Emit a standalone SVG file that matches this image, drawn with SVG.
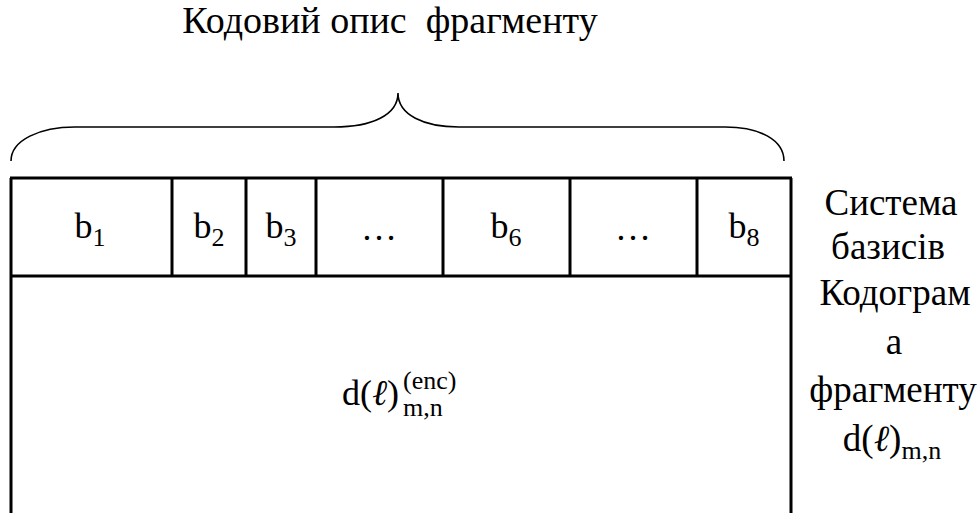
<svg xmlns="http://www.w3.org/2000/svg" width="979" height="513" viewBox="0 0 979 513">
<style>
text{font-family:'Liberation Serif','Tinos','DejaVu Serif','Noto Serif',serif;fill:#000;font-size:36px}
.t{font-size:38px}
.s{font-size:37px}
.sub{font-size:26px}
.c{text-anchor:middle}
.it{font-style:italic}
.ln{stroke:#000;stroke-width:3;fill:none}
.br{stroke:#000;stroke-width:1.6;fill:none}
</style>
<rect width="979" height="513" fill="#fff"/>
<g id="title"><text class="c t" x="390" y="33" xml:space="preserve">Кодовий опис  фрагменту</text></g>
<g id="connectors">
<path class="br" d="M11,161 C11,140 40,127 75,127 L334,127 C372,127 398,115 398,93 C398,115 424,127 459,127 L725,127 C760,127 784,140 784,161"/>
</g>
<g id="table">
<path class="ln" d="M10,178 H792 M10,276 H792 M11,178 V513 M791,178 V513 M172,178 V276 M246,178 V276 M316,178 V276 M443,178 V276 M570,178 V276 M697,178 V276"/>
</g>
<g id="b1"><text class="c" x="90" y="238">b<tspan class="sub" dy="8">1</tspan></text></g>
<g id="b2"><text class="c" x="209" y="238">b<tspan class="sub" dy="8">2</tspan></text></g>
<g id="b3"><text class="c" x="281" y="238">b<tspan class="sub" dy="8">3</tspan></text></g>
<g id="dots1"><text class="c" x="379" y="240">…</text></g>
<g id="b6"><text class="c" x="506" y="238">b<tspan class="sub" dy="8">6</tspan></text></g>
<g id="dots2"><text class="c" x="633" y="240">…</text></g>
<g id="b8"><text class="c" x="744" y="238">b<tspan class="sub" dy="8">8</tspan></text></g>
<g id="center">
<text x="342" y="405">d(<tspan class="it">ℓ</tspan>)</text>
<text class="sub" x="403" y="389">(enc)</text>
<text class="sub" x="403" y="416">m,n</text>
</g>
<g id="side">
<text class="c s" x="891" y="215">Система</text>
<text class="c s" x="888" y="259">базисів</text>
<text class="c s" x="895" y="305">Кодограм</text>
<text class="c s" x="894" y="354">а</text>
<text class="c s" x="893" y="402">фрагменту</text>
<text class="c s" x="892" y="451">d(<tspan class="it">ℓ</tspan>)<tspan class="sub" dy="8">m,n</tspan></text>
</g>
</svg>
